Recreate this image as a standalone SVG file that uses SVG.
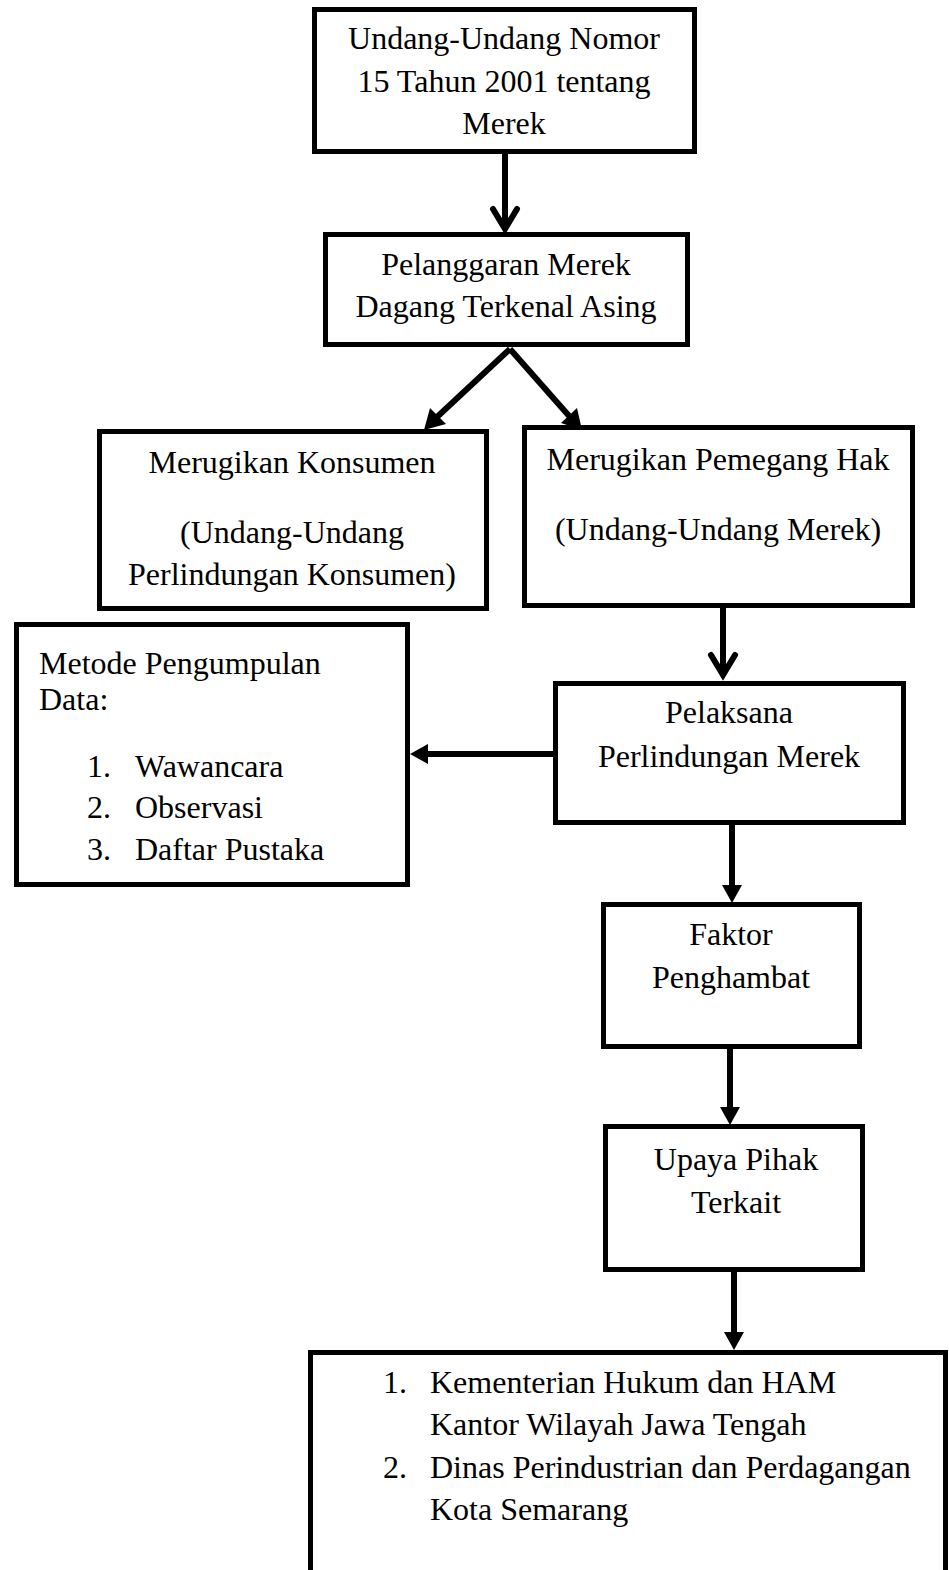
<svg xmlns="http://www.w3.org/2000/svg" width="949" height="1570" viewBox="0 0 949 1570">
<style>
.box{fill:#fff;stroke:#000;stroke-width:5}
.t{font-family:"Liberation Serif","Times New Roman",serif;font-size:32px;fill:#000}
.c{text-anchor:middle}
.ln{fill:none;stroke:#000;stroke-width:6}
.chev{fill:none;stroke:#000;stroke-width:6;stroke-linecap:round;stroke-linejoin:miter}
.head{fill:#000;stroke:none}
</style>
<rect width="949" height="1570" fill="#fff"/>
<g id="n1">
<rect class="box" x="314.5" y="9.5" width="380" height="142"/>
<text class="t c" x="504" y="49">Undang-Undang Nomor</text>
<text class="t c" x="504" y="92">15 Tahun 2001 tentang</text>
<text class="t c" x="504" y="134">Merek</text>
</g>
<g id="n2">
<rect class="box" x="325.5" y="234.5" width="362" height="110"/>
<text class="t c" x="506" y="275">Pelanggaran Merek</text>
<text class="t c" x="506" y="317">Dagang Terkenal Asing</text>
</g>
<g id="n3">
<rect class="box" x="99.5" y="431.5" width="387" height="177"/>
<text class="t c" x="292" y="473">Merugikan Konsumen</text>
<text class="t c" x="292" y="543">(Undang-Undang</text>
<text class="t c" x="292" y="585">Perlindungan Konsumen)</text>
</g>
<g id="n4">
<rect class="box" x="524.5" y="427.5" width="388" height="178"/>
<text class="t c" x="718" y="470">Merugikan Pemegang Hak</text>
<text class="t c" x="718" y="540">(Undang-Undang Merek)</text>
</g>
<g id="n5">
<rect class="box" x="16.5" y="624.5" width="391" height="260"/>
<text class="t" x="39" y="674">Metode Pengumpulan</text>
<text class="t" x="39" y="710">Data:</text>
<text class="t" x="87" y="777">1.</text><text class="t" x="135" y="777">Wawancara</text>
<text class="t" x="87" y="818">2.</text><text class="t" x="135" y="818">Observasi</text>
<text class="t" x="87" y="860">3.</text><text class="t" x="135" y="860">Daftar Pustaka</text>
</g>
<g id="n6">
<rect class="box" x="555.5" y="683.5" width="348" height="139"/>
<text class="t c" x="729" y="723">Pelaksana</text>
<text class="t c" x="729" y="767">Perlindungan Merek</text>
</g>
<g id="n7">
<rect class="box" x="603.5" y="904.5" width="256" height="142"/>
<text class="t c" x="731" y="945">Faktor</text>
<text class="t c" x="731" y="988">Penghambat</text>
</g>
<g id="n8">
<rect class="box" x="605.5" y="1126.5" width="257" height="143"/>
<text class="t c" x="736" y="1170">Upaya Pihak</text>
<text class="t c" x="736" y="1213">Terkait</text>
</g>
<g id="n9">
<rect class="box" x="310.5" y="1352.5" width="635" height="240"/>
<text class="t" x="383" y="1393">1.</text><text class="t" x="430" y="1393">Kementerian Hukum dan HAM</text>
<text class="t" x="430" y="1435">Kantor Wilayah Jawa Tengah</text>
<text class="t" x="383" y="1478">2.</text><text class="t" x="430" y="1478">Dinas Perindustrian dan Perdagangan</text>
<text class="t" x="430" y="1520">Kota Semarang</text>
</g>
<g id="connectors">
<line class="ln" x1="505" y1="154" x2="505" y2="227"/>
<polyline class="chev" points="493,209 505,229 517,209"/>
<line class="ln" x1="510" y1="349" x2="437" y2="417"/>
<polygon class="head" points="424,430 430,408 446,424"/>
<line class="ln" x1="510" y1="349" x2="570" y2="417"/>
<polygon class="head" points="582,430 561,423 577,408"/>
<line class="ln" x1="723" y1="608" x2="723" y2="673"/>
<polyline class="chev" points="711,655 723,675 735,655"/>
<line class="ln" x1="553" y1="754" x2="425" y2="754"/>
<polygon class="head" points="410,754 428,744 428,764"/>
<line class="ln" x1="732" y1="825" x2="732" y2="888"/>
<polygon class="head" points="732,903 722,885 742,885"/>
<line class="ln" x1="730" y1="1049" x2="730" y2="1110"/>
<polygon class="head" points="730,1125 720,1107 740,1107"/>
<line class="ln" x1="734" y1="1272" x2="734" y2="1334"/>
<polygon class="head" points="734,1350 724,1332 744,1332"/>
</g>
</svg>
